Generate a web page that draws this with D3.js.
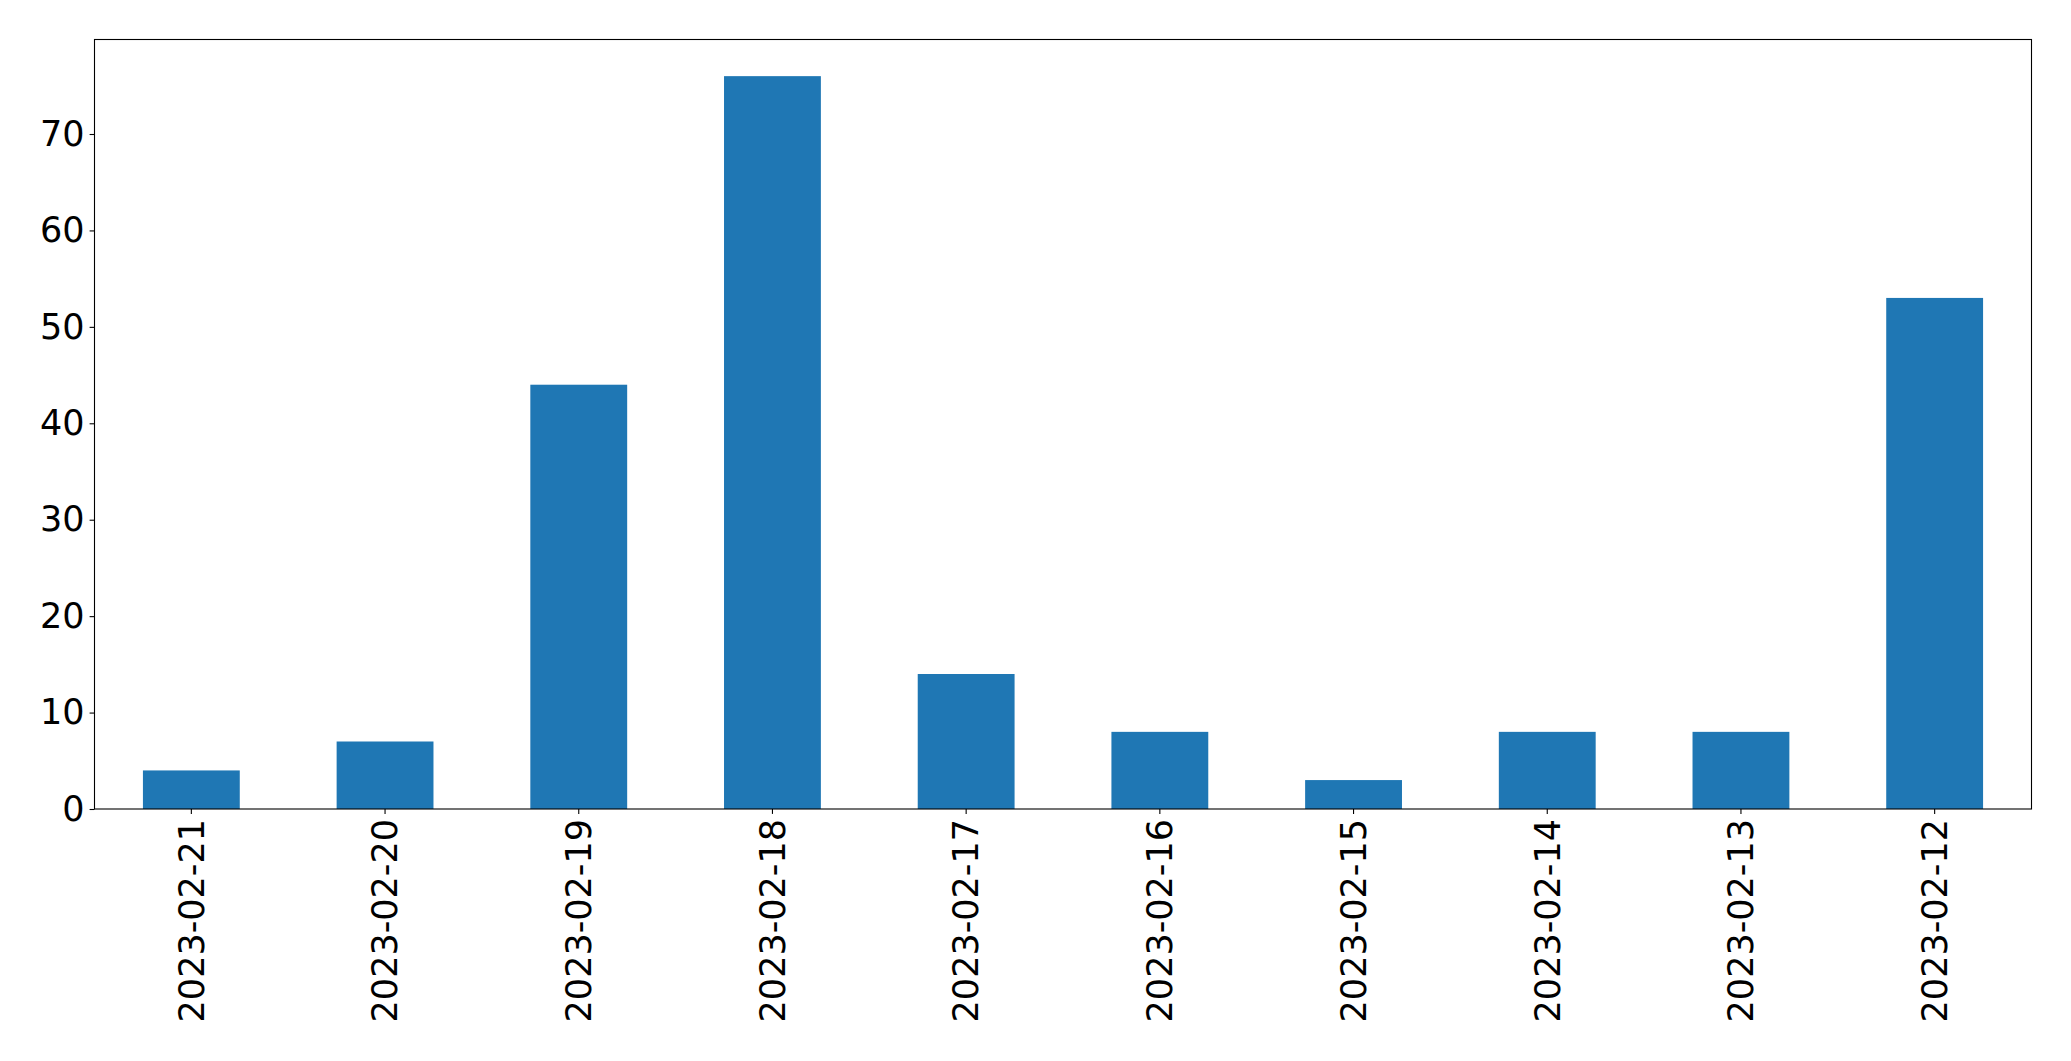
<!DOCTYPE html>
<html><head><meta charset="utf-8">
<script src="https://cdn.jsdelivr.net/npm/d3@7"></script>
<style>body{margin:0;background:#fff}svg{display:block}</style>
</head><body>
<script>
const categories = ["2023-02-21","2023-02-20","2023-02-19","2023-02-18","2023-02-17","2023-02-16","2023-02-15","2023-02-14","2023-02-13","2023-02-12"];
const values = [4, 7, 44, 76, 14, 8, 3, 8, 8, 53];
const yTicks = [0, 10, 20, 30, 40, 50, 60, 70];

const W = 2071, H = 1061;
const m = {left: 94.5, right: 2031.5, top: 39.5, bottom: 809};
const svg = d3.select("body").append("svg").attr("width", W).attr("height", H);

const x = d3.scaleBand().domain(categories).range([m.left, m.right]).paddingInner(0.5).paddingOuter(0.25);
const y = d3.scaleLinear().domain([0, d3.max(values) * 1.05]).range([m.bottom, m.top]);

svg.append("g").selectAll("rect").data(values).join("rect")
  .attr("x", (d, i) => x(categories[i]))
  .attr("width", x.bandwidth())
  .attr("y", d => y(d))
  .attr("height", d => y(0) - y(d))
  .attr("fill", "#1f77b4");

const font = "'DejaVu Sans', sans-serif";
const fs = 35;

const yAxis = svg.append("g").attr("transform", `translate(${m.left},0)`)
  .call(d3.axisLeft(y).tickValues(yTicks).tickSize(4.9).tickPadding(5).tickFormat(d3.format("d")));
yAxis.select(".domain").remove();
yAxis.selectAll("line").attr("stroke", "#000").attr("stroke-width", 1.1);
yAxis.selectAll("text").attr("font-family", font).attr("font-size", fs).attr("fill", "#000");

const xAxis = svg.append("g").attr("transform", `translate(0,${m.bottom})`)
  .call(d3.axisBottom(x).tickSize(4.9).tickPadding(0));
xAxis.select(".domain").remove();
xAxis.selectAll("line").attr("stroke", "#000").attr("stroke-width", 1.1);
xAxis.selectAll("text")
  .attr("font-family", font).attr("font-size", fs).attr("fill", "#000")
  .attr("text-anchor", "end")
  .attr("transform", "translate(0,10) rotate(-90)")
  .attr("x", 0).attr("y", 0).attr("dy", "0.35em");

svg.append("rect").attr("x", m.left).attr("y", m.top)
  .attr("width", m.right - m.left).attr("height", m.bottom - m.top)
  .attr("fill", "none").attr("stroke", "#000").attr("stroke-width", 1.1);
</script>
</body></html>
